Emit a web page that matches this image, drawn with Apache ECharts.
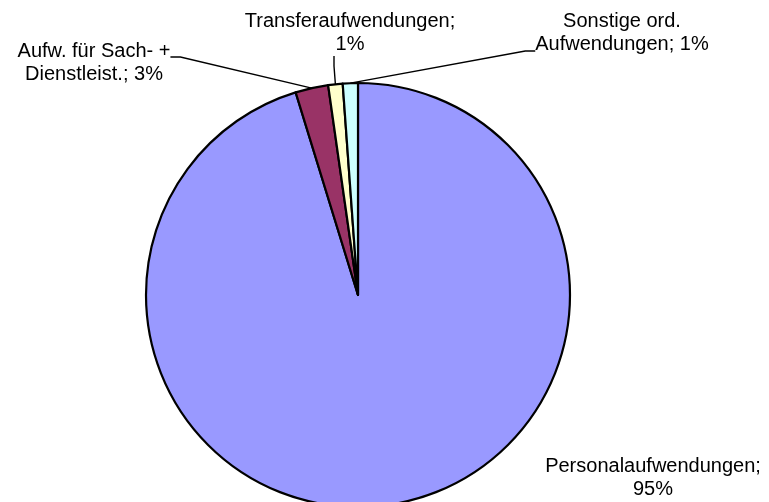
<!DOCTYPE html>
<html>
<head>
<meta charset="utf-8">
<script src="https://cdn.jsdelivr.net/npm/echarts@6/dist/echarts.min.js"></script>
<style>
  html, body { margin: 0; padding: 0; background: #fff; }
  #chart { width: 769px; height: 502px; }
</style>
</head>
<body>
<div id="chart"></div>
<script>
  const categories = ['Personalaufwendungen', 'Aufw. für Sach- + Dienstleist.', 'Transferaufwendungen', 'Sonstige ord. Aufwendungen'];
  const values = [95.25, 2.5, 1.1, 1.15];
  const colors = ['#9999FF', '#993366', '#FFFFCC', '#CCFFFF'];

  // label text, wrapped like the original. the {top}/{side}/{bot} bits are empty
  // spacers that only move where the leader line meets the label box
  const labelTexts = [
    'Personalaufwendungen;\n{p}%',
    '{top| }\nAufw. für Sach- +\nDienstleist.; {p}%',
    '{side| }Transferaufwendungen;\n{side| }{p}%',
    'Sonstige ord.\nAufwendungen; {p}%\n{bot| }'
  ];
  const labelSpots = [[653, 478], [94, 57], [334, 33], [622, 51]];

  const chart = echarts.init(document.getElementById('chart'));

  const data = categories.map((c, i) => ({
    name: c,
    value: values[i],
    itemStyle: { color: colors[i] },
    labelLine: { show: i !== 0 }
  }));

  chart.setOption({
    animation: false,
    series: [{
      type: 'pie',
      center: [358, 295],
      radius: 212,
      startAngle: 90,
      clockwise: true,
      itemStyle: { borderColor: '#000', borderWidth: 2.2 },
      label: {
        show: true,
        position: 'outside',
        overflow: 'none',
        fontFamily: 'Liberation Sans, Arial, sans-serif',
        fontSize: 20,
        lineHeight: 23,
        color: '#000',
        align: 'center',
        formatter: p => labelTexts[p.dataIndex].replace('{p}', Math.round(p.percent)),
        rich: {
          top: { lineHeight: 12, fontSize: 10 },
          bot: { lineHeight: 36, fontSize: 10 },
          side: { width: 32, fontSize: 20, lineHeight: 23 }
        }
      },
      labelLine: {
        lineStyle: { color: '#000', width: 1.4 },
        length: 8,
        length2: 10
      },
      labelLayout: p => ({
        x: labelSpots[p.dataIndex][0],
        y: labelSpots[p.dataIndex][1],
        align: 'center',
        verticalAlign: 'middle'
      }),
      emphasis: { disabled: true },
      data: data
    }]
  });
</script>
</body>
</html>
